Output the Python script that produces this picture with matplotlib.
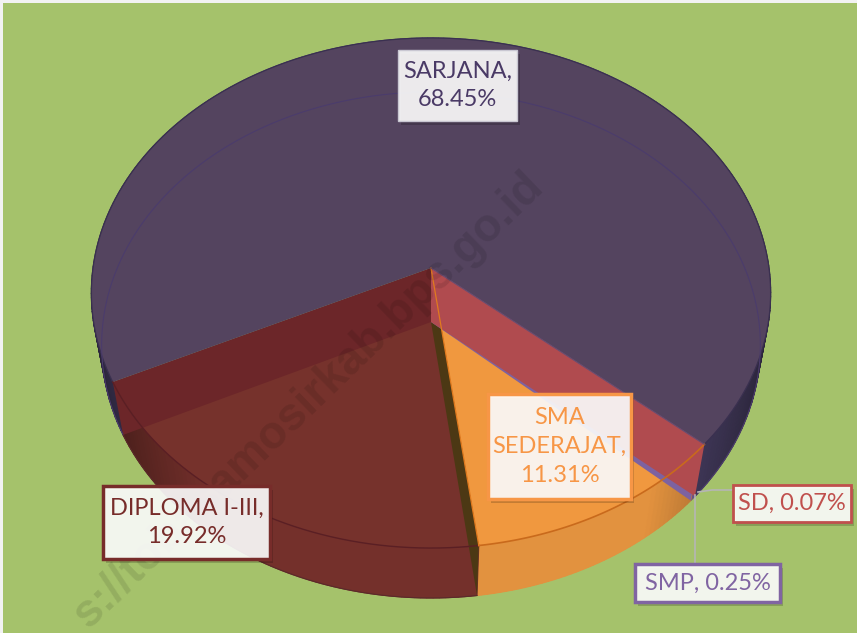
import numpy as np
import matplotlib
matplotlib.use('Agg')
import matplotlib.pyplot as plt
from matplotlib.patches import Polygon, Rectangle
from matplotlib.colors import to_rgb

# data to plot (clockwise, starting at the SD slice)
categories = ['SD', 'SMP', 'SMA SEDERAJAT', 'DIPLOMA I-III', 'SARJANA']
values = [0.07, 0.25, 11.31, 19.92, 68.45]
label_texts = ['SD, 0.07%', 'SMP, 0.25%', 'SMA\nSEDERAJAT,\n11.31%',
               'DIPLOMA I-III,\n19.92%', 'SARJANA,\n68.45%']

face_colors = ['#B04B4F', '#7D62A0', '#F0983F', '#76322C', '#54445F']
wall_colors = ['#B04B4F', '#7D62A0', '#E2923F', '#74302B', '#4A4066']
cut_colors = ['#B04B4F', '#7D62A0', '#4C3814', '#6C2629', '#54445F']
rim_colors = ['#B04B4F', '#7D62A0', '#C96A1C', '#5A1F24', '#3A3050']
text_colors = ['#C0504D', '#8064A2', '#F79646', '#772C2A', '#4A3A66']
edge_colors = ['#C0504D', '#8064A2', '#F79646', '#772C2A', '#C9C7D2']
edge_widths = [2, 2.5, 2.5, 2.5, 1]

# label boxes in pixels: left, top, right, bottom
boxes = [(733, 485, 851, 522), (635, 564, 780, 602), (488, 394, 631, 499),
         (103, 486, 270, 559), (398, 50, 517, 121)]

BG = '#A5C26B'
START = 130.8
CX = 431
TOP = dict(a=338, b=252.6, k=0.098, y0=268)
BOT = dict(a=328, b=250.9, k=0.0909, y0=322)


def proj(theta, level, r=1.0):
    # theta in degrees clockwise from the back of the pie, with some perspective
    t = np.radians(theta)
    x = r * np.sin(t)
    y = r * np.cos(t)
    w = 1 + level['k'] * y
    return np.column_stack((CX + level['a'] * x / w, level['y0'] - level['b'] * y / w))


def arc(start, end, level):
    n = max(int(abs(end - start)) * 2, 2)
    return proj(np.linspace(start, end, n), level)


def shade(color, theta):
    # walls get darker toward the sides of the pie
    s = abs(np.sin(np.radians(theta)))
    f = 1 - 0.45 * np.clip((s - 0.6) / 0.4, 0, 1)
    return tuple(c * f for c in to_rgb(color))


edges = START + np.concatenate(([0], np.cumsum(values))) * 3.6

fig = plt.figure(figsize=(8.57, 6.33), dpi=100, facecolor='#F2F2F2')
ax = fig.add_axes([0, 0, 1, 1])
ax.set_xlim(0, 857)
ax.set_ylim(633, 0)
ax.axis('off')
ax.add_patch(Rectangle((3, 3), 860, 640, fc=BG, ec='none', zorder=0))

# floor of the front slices
for i in [2, 3]:
    poly = np.vstack((proj(0, BOT, 0), arc(edges[i], edges[i + 1], BOT)))
    ax.add_patch(Polygon(poly, fc=face_colors[i], ec='none', zorder=1))

# outer wall
for i in range(len(values)):
    steps = np.arange(edges[i], edges[i + 1], 1.0)
    steps = np.append(steps, edges[i + 1])
    for a, b in zip(steps[:-1], steps[1:]):
        quad = np.vstack((arc(a, b, TOP), arc(b, a, BOT)))
        c = shade(wall_colors[i], (a + b) / 2)
        ax.add_patch(Polygon(quad, fc=c, ec=c, lw=0.8, zorder=1.5))

# flat top of the front slices
for i in [2, 3]:
    poly = np.vstack((proj(0, TOP, 0), arc(edges[i], edges[i + 1], TOP)))
    ax.add_patch(Polygon(poly, fc=face_colors[i], ec='none', zorder=2))


def cut_face(theta, color, zorder):
    quad = np.vstack((proj(theta, TOP, 0), proj(theta, TOP), proj(theta, BOT), proj(theta, BOT, 0)))
    ax.add_patch(Polygon(quad, fc=color, ec='none', zorder=zorder))


cut_face(edges[3], cut_colors[2], 3)     # SMA / DIPLOMA
cut_face(edges[2], cut_colors[1], 3.1)   # SMP
cut_face(edges[0], cut_colors[0], 3.2)   # SD
cut_face(edges[4], cut_colors[3], 3.3)   # DIPLOMA / SARJANA

# top of the big slice
poly = np.vstack((proj(0, TOP, 0), arc(edges[4], edges[5], TOP)))
ax.add_patch(Polygon(poly, fc=face_colors[4], ec='none', zorder=4))

# rim lines
line = arc(edges[4], edges[5], TOP)
ax.plot(line[:, 0], line[:, 1], color=rim_colors[4], lw=0.9, zorder=5)
line = arc(edges[4], edges[5], BOT)
ax.plot(line[:, 0], line[:, 1], color='#4B3C6C', lw=0.8, zorder=5)
line = arc(edges[3], edges[4], TOP)
ax.plot(line[:, 0], line[:, 1], color=rim_colors[3], lw=1, zorder=5)
line = arc(edges[0], edges[3], TOP)
ax.plot(line[:, 0], line[:, 1], color=rim_colors[2], lw=1.2, zorder=5)
p = np.vstack((proj(edges[3], TOP, 0), proj(edges[3], TOP)))
ax.plot(p[:, 0], p[:, 1], color='#E07A1E', lw=0.9, zorder=5)
p = np.vstack((proj(edges[0], TOP, 0), proj(edges[0], TOP)))
ax.plot(p[:, 0], p[:, 1], color='#6A4A70', lw=0.8, zorder=5)
line = arc(edges[3], edges[4], BOT)
ax.plot(line[:, 0], line[:, 1], color='#5A2A2A', lw=0.8, zorder=5)

# watermark
ax.text(537, 180, 's://tobasamosirkab.bps.go.id', rotation=44, rotation_mode='anchor',
        ha='right', va='center', fontsize=33, fontweight='bold', family='Liberation Sans',
        color='black', alpha=0.10, zorder=6)

# leader lines
ax.plot([695, 695], [495, 564], color='#B5B5B5', lw=1.2, zorder=7)
ax.plot([698, 712, 733], [492, 490, 490], color='#B5B5B5', lw=1.2, zorder=7)

# data labels
for i in range(len(values)):
    x0, y0, x1, y1 = boxes[i]
    ax.add_patch(Rectangle((x0 + 3, y0 + 4), x1 - x0, y1 - y0, fc='black', alpha=0.18, ec='none', zorder=8))
    ax.add_patch(Rectangle((x0, y0), x1 - x0, y1 - y0, fc='white', alpha=0.9, ec='none', zorder=9))
    ax.add_patch(Rectangle((x0, y0), x1 - x0, y1 - y0, fc='none', ec=edge_colors[i],
                           lw=edge_widths[i], zorder=10))
    ax.text((x0 + x1) / 2, (y0 + y1) / 2, label_texts[i], ha='center', va='center', multialignment='center',
            fontsize=17, family='Lato', color=text_colors[i], linespacing=1.46, zorder=11)

fig.savefig('out.png', dpi=100, facecolor=fig.get_facecolor())
